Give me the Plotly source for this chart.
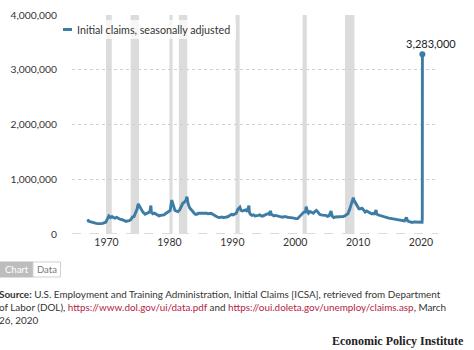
import plotly.graph_objects as go

# ---- data (initial claims, thousands) ----
claim_dates = [
    "1967-01-07", "1967-02-15", "1967-05-15", "1967-08-15", "1967-11-15",
    "1968-02-15", "1968-05-15", "1968-08-15", "1968-11-15",
    "1969-02-15", "1969-05-15", "1969-08-15", "1969-11-15",
    "1970-02-15", "1970-05-15", "1970-08-15", "1970-11-15",
    "1971-02-15", "1971-05-15", "1971-08-15", "1971-11-15",
    "1972-02-15", "1972-05-15", "1972-08-15", "1972-11-15",
    "1973-02-15", "1973-05-15", "1973-08-15", "1973-11-15",
    "1974-02-15", "1974-05-15", "1974-08-15", "1974-11-15",
    "1975-01-15", "1975-04-15", "1975-07-15", "1975-10-15",
    "1976-02-15", "1976-05-15", "1976-08-15", "1976-11-15",
    "1977-01-20", "1977-02-15", "1977-05-15", "1977-08-15", "1977-11-15",
    "1978-02-15", "1978-05-15", "1978-08-15", "1978-11-15",
    "1979-02-15", "1979-05-15", "1979-08-15", "1979-11-15",
    "1980-02-15", "1980-05-15", "1980-08-15", "1980-11-15",
    "1981-02-15", "1981-05-15", "1981-08-15", "1981-11-15",
    "1982-02-15", "1982-05-15", "1982-08-15", "1982-10-15", "1982-12-15",
    "1983-03-15", "1983-06-15", "1983-09-15", "1983-12-15",
    "1984-02-15", "1984-05-15", "1984-08-15", "1984-11-15",
    "1985-02-15", "1985-05-15", "1985-08-15", "1985-11-15",
    "1986-02-15", "1986-05-15", "1986-08-15", "1986-11-15",
    "1987-02-15", "1987-05-15", "1987-08-15", "1987-11-15",
    "1988-02-15", "1988-05-15", "1988-08-15", "1988-11-15",
    "1989-02-15", "1989-05-15", "1989-08-15", "1989-11-15",
    "1990-02-15", "1990-05-15", "1990-08-15", "1990-11-15",
    "1991-03-15", "1991-05-15", "1991-08-15", "1991-11-15",
    "1992-02-15", "1992-05-15", "1992-08-20", "1992-09-15", "1992-11-15",
    "1993-02-15", "1993-05-15", "1993-08-15", "1993-11-15",
    "1994-02-15", "1994-05-15", "1994-08-15", "1994-11-15",
    "1995-02-15", "1995-05-15", "1995-08-15", "1995-11-15",
    "1996-01-20", "1996-03-15", "1996-05-15", "1996-08-15", "1996-11-15",
    "1997-02-15", "1997-05-15", "1997-08-15", "1997-11-15",
    "1998-02-15", "1998-05-15", "1998-08-15", "1998-11-15",
    "1999-02-15", "1999-05-15", "1999-08-15", "1999-11-15",
    "2000-02-15", "2000-05-15", "2000-08-15", "2000-11-15",
    "2001-02-15", "2001-05-15", "2001-08-15", "2001-09-29", "2001-11-15",
    "2002-02-15", "2002-05-15", "2002-08-15", "2002-11-15",
    "2003-02-15", "2003-05-15", "2003-08-15", "2003-11-15",
    "2004-02-15", "2004-05-15", "2004-08-15", "2004-11-15",
    "2005-02-15", "2005-05-15", "2005-09-10", "2005-11-15",
    "2006-02-15", "2006-05-15", "2006-08-15", "2006-11-15",
    "2007-02-15", "2007-05-15", "2007-08-15", "2007-11-15",
    "2008-02-15", "2008-05-15", "2008-08-15", "2008-11-15",
    "2009-03-28", "2009-05-15", "2009-08-15", "2009-11-15",
    "2010-02-15", "2010-05-15", "2010-08-15", "2010-11-15",
    "2011-02-15", "2011-05-15", "2011-08-15", "2011-11-15",
    "2012-02-15", "2012-05-15", "2012-08-15", "2012-11-03", "2012-12-15",
    "2013-02-15", "2013-05-15", "2013-08-15", "2013-11-15",
    "2014-02-15", "2014-05-15", "2014-08-15", "2014-11-15",
    "2015-02-15", "2015-05-15", "2015-08-15", "2015-11-15",
    "2016-02-15", "2016-05-15", "2016-08-15", "2016-11-15",
    "2017-02-15", "2017-05-15", "2017-09-02", "2017-11-15",
    "2018-02-15", "2018-05-15", "2018-08-15", "2018-11-15",
    "2019-02-15", "2019-05-15", "2019-08-15", "2019-11-15",
    "2020-01-18", "2020-02-29", "2020-03-14", "2020-03-21",
]
claims_thousands = [
    270, 235, 225, 215, 205,
    200, 195, 190, 185,
    190, 195, 200, 215,
    270, 330, 300, 320,
    300, 290, 305, 280,
    270, 265, 255, 250,
    230, 240, 245, 265,
    310, 320, 380, 460,
    550, 500, 450, 400,
    360, 380, 390, 400,
    520, 400, 370, 380, 360,
    350, 330, 340, 345,
    350, 370, 390, 400,
    430, 620, 500, 430,
    420, 410, 440, 510,
    560, 580, 620, 680, 560,
    480, 440, 400, 380,
    360, 360, 380, 380,
    380, 390, 390, 380,
    370, 370, 380, 360,
    340, 320, 310, 300,
    310, 310, 300, 300,
    310, 320, 340, 360,
    350, 360, 380, 450,
    490, 430, 420, 430,
    440, 410, 520, 400, 360,
    340, 350, 330, 330,
    340, 350, 330, 330,
    340, 360, 370, 360,
    420, 360, 350, 330, 340,
    330, 320, 320, 310,
    310, 320, 310, 300,
    300, 300, 290, 285,
    280, 280, 310, 330,
    360, 400, 400, 500, 440,
    380, 410, 390, 380,
    410, 430, 400, 360,
    350, 340, 340, 340,
    320, 330, 420, 330,
    300, 310, 310, 320,
    320, 310, 320, 330,
    350, 370, 440, 520,
    665, 610, 560, 490,
    460, 460, 470, 440,
    400, 420, 400, 390,
    370, 375, 370, 440, 370,
    350, 340, 330, 330,
    320, 310, 300, 290,
    285, 280, 270, 265,
    260, 255, 260, 255,
    245, 240, 300, 240,
    225, 220, 210, 220,
    220, 215, 215, 220,
    211, 216, 282, 3283,
]
claims = [v * 1000 for v in claims_thousands]

recession_starts = ["1969-12-01", "1973-11-01", "1980-01-01", "1981-07-01",
                    "1990-07-01", "2001-03-01", "2007-12-01"]
recession_ends = ["1970-11-01", "1975-03-01", "1980-07-01", "1982-11-01",
                  "1991-03-01", "2001-11-01", "2009-06-01"]

y_tick_vals = [0, 1000000, 2000000, 3000000, 4000000]
y_tick_text = ["0", "1,000,000", "2,000,000", "3,000,000", "4,000,000"]
x_tick_vals = ["1970-01-01", "1980-01-01", "1990-01-01", "2000-01-01",
               "2010-01-01", "2020-01-01"]
x_tick_text = ["1970", "1980", "1990", "2000", "2010", "2020"]

peak_label = "3,283,000"
series_name = "Initial claims, seasonally adjusted"

LINE = "#3d7ca4"
FONT = "Lato"

W, H = 474, 350
ML, MR, MT, MB = 72, 36, 15, 116
PW, PH = W - ML - MR, H - MT - MB


def px(x):  # pixel x -> paper
    return (x - ML) / PW


def py(y):  # pixel y -> paper
    return 1 - (y - MT) / PH


fig = go.Figure()
fig.add_trace(go.Scatter(
    x=claim_dates, y=claims, mode="lines", name=series_name,
    line=dict(color=LINE, width=2.9), showlegend=False,
    hoverinfo="x+y",
))
fig.add_trace(go.Scatter(
    x=[claim_dates[-1]], y=[claims[-1]], mode="markers",
    marker=dict(color=LINE, size=6), showlegend=False, hoverinfo="skip",
))

shapes = []
for s, e in zip(recession_starts, recession_ends):
    shapes.append(dict(type="rect", xref="x", yref="y", x0=s, x1=e,
                       y0=0, y1=4000000, fillcolor="#dcdcdc",
                       line=dict(width=0), layer="below"))
# zero baseline dashed
shapes.append(dict(type="line", xref="paper", yref="y", x0=0, x1=1,
                   y0=0, y1=0, line=dict(color="#b5b5b5", width=1.2, dash="dash"),
                   layer="below"))
# legend background + symbol
shapes.append(dict(type="rect", xref="paper", yref="paper",
                   x0=px(59), x1=px(236), y0=py(39), y1=py(20),
                   fillcolor="rgba(255,255,255,0.75)", line=dict(width=0),
                   layer="above"))
shapes.append(dict(type="line", xref="paper", yref="paper",
                   x0=px(63), x1=px(72), y0=py(29.5), y1=py(29.5),
                   line=dict(color=LINE, width=3)))
# Chart / Data toggle
shapes.append(dict(type="rect", xref="paper", yref="paper",
                   x0=px(0), x1=px(33), y0=py(277), y1=py(262),
                   fillcolor="#bdbdbd", line=dict(color="#bdbdbd", width=1)))
shapes.append(dict(type="rect", xref="paper", yref="paper",
                   x0=px(33), x1=px(60.5), y0=py(277), y1=py(262),
                   fillcolor="#ffffff", line=dict(color="#cfcfcf", width=1)))

annotations = [
    dict(xref="paper", yref="paper", x=px(75), y=py(29.5), xanchor="left",
         yanchor="middle", text=series_name, showarrow=False,
         font=dict(family=FONT, size=10.7, color="#333333")),
    dict(xref="x", yref="y", x=claim_dates[-1], y=claims[-1], text=peak_label,
         showarrow=False, xanchor="center", yanchor="bottom", yshift=2,
         xshift=9, font=dict(family=FONT, size=11, color="#222222")),
    dict(xref="paper", yref="paper", x=px(16.5), y=py(269.5), text="Chart",
         showarrow=False, xanchor="center", yanchor="middle",
         font=dict(family=FONT, size=9.5, color="#ffffff")),
    dict(xref="paper", yref="paper", x=px(47), y=py(269.5), text="Data",
         showarrow=False, xanchor="center", yanchor="middle",
         font=dict(family=FONT, size=9.5, color="#777777")),
    dict(xref="paper", yref="paper", x=px(-3), y=py(285.5), xanchor="left",
         yanchor="top", align="left", showarrow=False,
         text=("<b>Source:</b> U.S. Employment and Training Administration, Initial Claims [ICSA], retrieved from Department<br>"
               "of Labor (DOL), <span style='color:#b3243f'>https://www.dol.gov/ui/data.pdf</span> and "
               "<span style='color:#b3243f'>https://oui.doleta.gov/unemploy/claims.asp</span>, March<br>"
               "26, 2020"),
         font=dict(family=FONT, size=9.9, color="#333333")),
    dict(xref="paper", yref="paper", x=px(466), y=py(341), xanchor="right",
         yanchor="middle", showarrow=False, text="<b>Economic Policy Institute</b>",
         font=dict(family="Liberation Serif", size=12, color="#222222")),
]

fig.update_layout(
    width=W, height=H,
    margin=dict(l=ML, r=MR, t=MT, b=MB, pad=0, autoexpand=False),
    paper_bgcolor="white", plot_bgcolor="white",
    shapes=shapes, annotations=annotations,
    showlegend=False,
    font=dict(family=FONT, color="#333333"),
    xaxis=dict(
        type="date", range=["1964-07-05", "2022-09-13"],
        tickvals=x_tick_vals, ticktext=x_tick_text,
        showgrid=False, zeroline=False, showline=False, ticks="",
        tickfont=dict(family=FONT, size=10.5, color="#333333"),
        fixedrange=True, automargin=False,
    ),
    yaxis=dict(
        range=[0, 4000000], tickvals=y_tick_vals, ticktext=y_tick_text,
        showgrid=True, gridcolor="#d0d0d0", griddash="dot", gridwidth=1,
        zeroline=False, showline=False, ticks="", ticklabelstandoff=14,
        tickfont=dict(family=FONT, size=10.3, color="#333333"),
        fixedrange=True, automargin=False,
    ),
)

fig.write_html("out.html", config={"displayModeBar": False})
